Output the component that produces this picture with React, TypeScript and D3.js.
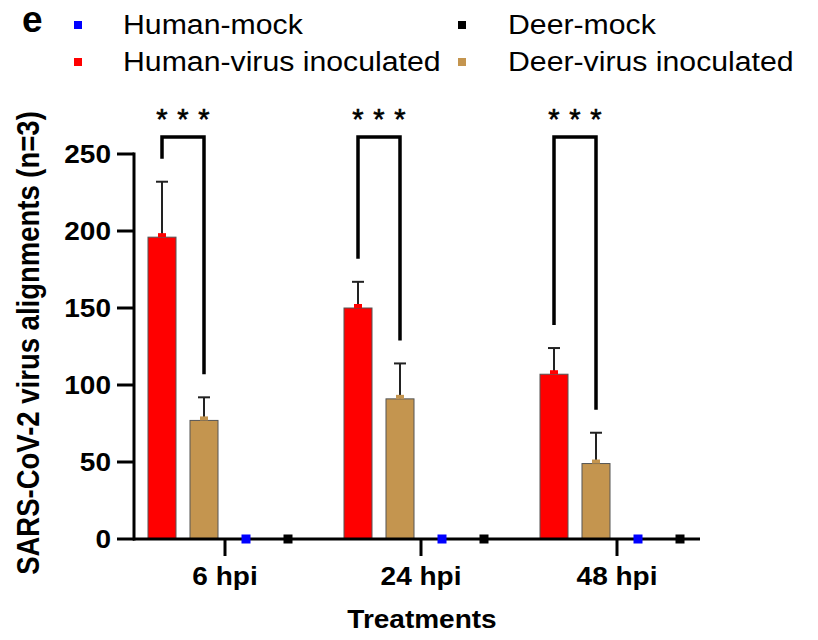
import React from "react";
import * as d3 from "d3";

const categories = ["6 hpi", "24 hpi", "48 hpi"];
const seriesNames = ["Human-virus inoculated", "Deer-virus inoculated", "Human-mock", "Deer-mock"];
const seriesColors = ["#ff0000", "#c4954f", "#0000ff", "#000000"];
const humanVirus = [196, 150, 107];
const humanVirusSD = [36, 17, 17];
const deerVirus = [77, 91, 49];
const deerVirusSD = [15, 23, 20];
const humanMock = [0, 0, 0];
const deerMock = [0, 0, 0];
const yTicks = [0, 50, 100, 150, 200, 250];
const significance = ["***", "***", "***"];
const legendItems = [
  { name: "Human-mock", color: "#0000ff", col: 0, row: 0 },
  { name: "Human-virus inoculated", color: "#ff0000", col: 0, row: 1 },
  { name: "Deer-mock", color: "#000000", col: 1, row: 0 },
  { name: "Deer-virus inoculated", color: "#c4954f", col: 1, row: 1 },
];

const W = 818;
const H = 640;
const SX = 1.12;
const FONT = "'Liberation Sans', Arial, Helvetica, sans-serif";

function T(props: {
  x: number; y: number; size: number; anchor?: string; bold?: boolean; children: any; sx?: number;
}) {
  const { x, y, size, anchor = "start", bold = false, children, sx = SX } = props;
  return (
    <text
      transform={`translate(${x},${y}) scale(${sx},1)`}
      fontSize={size}
      fontFamily={FONT}
      fontWeight={bold ? "bold" : "normal"}
      textAnchor={anchor}
      fill="#000"
    >
      {children}
    </text>
  );
}

export default function App() {
  const y = d3.scaleLinear().domain([0, 250]).range([539, 154]);
  const x = d3.scaleBand().domain(categories).range([127, 715]).paddingInner(0).paddingOuter(0);
  const sub = d3.scaleBand().domain(seriesNames).range([-84, 84]);
  const barW = sub.bandwidth() * 0.667;
  const center = (c: string) => (x(c) as number) + x.bandwidth() / 2;
  const sc = (c: string, s: string) => center(c) + (sub(s) as number) + sub.bandwidth() / 2;

  const virusSeries = [
    { name: seriesNames[0], vals: humanVirus, sd: humanVirusSD, color: seriesColors[0] },
    { name: seriesNames[1], vals: deerVirus, sd: deerVirusSD, color: seriesColors[1] },
  ];
  const mockSeries = [
    { name: seriesNames[2], vals: humanMock, color: seriesColors[2] },
    { name: seriesNames[3], vals: deerMock, color: seriesColors[3] },
  ];
  const bracketTop = y(261);

  return (
    <svg width={W} height={H} style={{ display: "block", position: "absolute", left: 0, top: 0 }}>
      <rect width={W} height={H} fill="#fff" />
      {/* Legend */}
      <T x={22} y={32} size={37} bold sx={1}>e</T>
      {legendItems.map((it) => {
        const sqX = it.col === 0 ? 78 : 462;
        const txX = it.col === 0 ? 123 : 508;
        const rowY = it.row === 0 ? 25 : 62;
        return (
          <g key={it.name}>
            <rect x={sqX - 4} y={rowY - 4} width={8} height={8} fill={it.color} />
            <T x={txX} y={rowY + 9} size={27}>{it.name}</T>
          </g>
        );
      })}

      {/* Bars */}
      {virusSeries.map((s) =>
        categories.map((c, i) => {
          const cx = sc(c, s.name);
          const top = y(s.vals[i]);
          const eTop = y(s.vals[i] + s.sd[i]);
          return (
            <g key={s.name + c}>
              <line x1={cx} x2={cx} y1={top} y2={eTop} stroke="#222" strokeWidth={2} />
              <line x1={cx - 6} x2={cx + 6} y1={eTop} y2={eTop} stroke="#222" strokeWidth={2} />
              <rect x={cx - barW / 2} y={top} width={barW} height={y(0) - top} fill={s.color} stroke="#555" strokeWidth={1} />
              <rect x={cx - 4} y={top - 4} width={8} height={4} fill={s.color} />
            </g>
          );
        })
      )}

      {/* Axes */}
      <line x1={133} x2={700} y1={y(0)} y2={y(0)} stroke="#000" strokeWidth={3} />
      <line x1={134} x2={134} y1={y(250) - 1.5} y2={y(0) + 1.5} stroke="#000" strokeWidth={3} />
      {yTicks.map((t) => (
        <g key={t}>
          <line x1={117} x2={134} y1={y(t)} y2={y(t)} stroke="#000" strokeWidth={3} />
          <T x={111} y={y(t) + 9} size={25} bold anchor="end">{t}</T>
        </g>
      ))}
      {categories.map((c) => (
        <g key={c}>
          <line x1={center(c)} x2={center(c)} y1={y(0)} y2={y(0) + 17} stroke="#000" strokeWidth={3} />
          <T x={center(c)} y={585} size={25} bold anchor="middle">{c}</T>
        </g>
      ))}

      {/* Mock markers */}
      {mockSeries.map((s) =>
        categories.map((c, i) => {
          const cx = sc(c, s.name);
          return <rect key={s.name + c} x={cx - 4.5} y={y(s.vals[i]) - 4.5} width={9} height={9} fill={s.color} />;
        })
      )}

      {/* Significance brackets */}
      {categories.map((c, i) => {
        const lx = sc(c, seriesNames[0]);
        const rx = sc(c, seriesNames[1]);
        const lEnd = y(humanVirus[i] + humanVirusSD[i]) - 23;
        const rEnd = y(deerVirus[i] + deerVirusSD[i]) - 23;
        const stars = significance[i].split("");
        const n = stars.length;
        return (
          <g key={"sig" + c}>
            <path d={`M${lx},${lEnd}V${bracketTop}H${rx}V${rEnd}`} fill="none" stroke="#000" strokeWidth={3.5} />
            {stars.map((s, k) => (
              <text
                key={k}
                x={lx + ((rx - lx) * k) / (n - 1)}
                y={129}
                fontSize={29}
                fontFamily={FONT}
                textAnchor="middle"
                stroke="#000"
                strokeWidth={0.6}
                fill="#000"
              >
                {s}
              </text>
            ))}
          </g>
        );
      })}

      {/* Axis titles */}
      <T x={422} y={628} size={25} bold anchor="middle">Treatments</T>
      <text
        transform={`translate(39,343) rotate(-90) scale(1,${SX})`}
        fontSize={27.5}
        fontFamily={FONT}
        fontWeight="bold"
        textAnchor="middle"
        fill="#000"
      >
        SARS-CoV-2 virus alignments (n=3)
      </text>
    </svg>
  );
}
